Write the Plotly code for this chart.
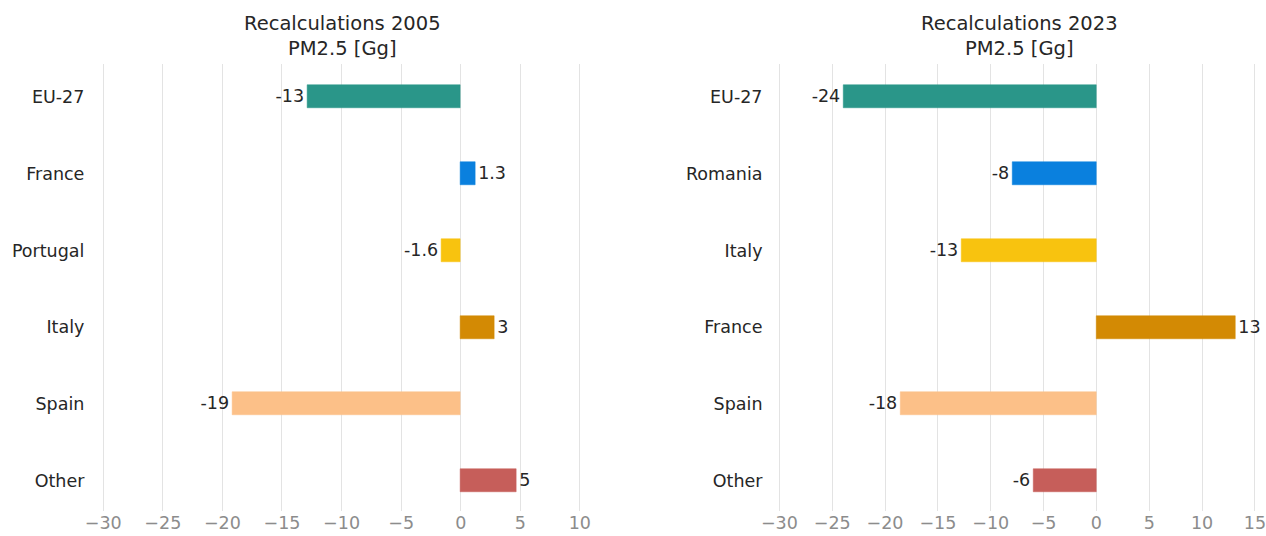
import plotly.graph_objects as go

# ---- data ----
countries_2005 = ["EU-27", "France", "Portugal", "Italy", "Spain", "Other"]
values_2005 = [-12.9, 1.25, -1.6, 2.85, -19.2, 4.7]
labels_2005 = ["-13", "1.3", "-1.6", "3", "-19", "5"]

countries_2023 = ["EU-27", "Romania", "Italy", "France", "Spain", "Other"]
values_2023 = [-23.9, -7.95, -12.8, 13.15, -18.5, -5.95]
labels_2023 = ["-24", "-8", "-13", "13", "-18", "-6"]

row_colors = ["#2a9689", "#0a80de", "#f8c30f", "#d38a04", "#fcc088", "#c65e5a"]

W, H = 1266, 536
FONT = "DejaVu Sans"


def px(x):
    return x / W


def py(y):
    return 1 - y / H


fig = go.Figure()

for vals, cats, labs, xa, ya in [
    (values_2005, countries_2005, labels_2005, "x", "y"),
    (values_2023, countries_2023, labels_2023, "x2", "y2"),
]:
    fig.add_trace(go.Bar(
        x=vals, y=cats, orientation="h", width=0.3,
        marker=dict(color=row_colors, line=dict(color=row_colors, width=0.5)),
        text=labs, textposition="outside", constraintext="none", cliponaxis=False,
        textfont=dict(family=FONT, size=17.5, color="#262626"),
        xaxis=xa, yaxis=ya, showlegend=False, hoverinfo="x+y",
    ))

y_dom = [py(510.7), py(64)]
left_dom = [px(85.4), px(597.7)]
right_dom = [px(763.5), px(1265.5)]

xcommon = dict(
    showgrid=True, gridcolor="#e3e3e3", gridwidth=1, zeroline=False,
    showline=False, ticks="", tickfont=dict(family=FONT, size=17.5, color="#8c8c8c"),
    tickmode="linear", dtick=5, tick0=0, automargin=False,
    ticklabeloverflow="allow",
)
ycommon = dict(
    showgrid=False, zeroline=False, showline=False, ticks="",
    tickfont=dict(family=FONT, size=17.5, color="#262626"),
    automargin=False, range=[5.394, -0.43], type="category",
)

fig.update_layout(
    width=W, height=H,
    margin=dict(l=0, r=0, t=0, b=0),
    paper_bgcolor="white", plot_bgcolor="white",
    font=dict(family=FONT),
    bargap=0,
    xaxis=dict(domain=left_dom, range=[-31.5, 11.5], anchor="y", **xcommon),
    yaxis=dict(domain=y_dom, anchor="x", categoryorder="array",
               categoryarray=countries_2005, **ycommon),
    xaxis2=dict(domain=right_dom, range=[-31.5, 16], anchor="y2", **xcommon),
    yaxis2=dict(domain=y_dom, anchor="x2", categoryorder="array",
                categoryarray=countries_2023, **ycommon),
    annotations=[
        dict(text="Recalculations 2005<br>PM2.5 [Gg]", x=px(342.5), y=py(36),
             xref="paper", yref="paper", showarrow=False, xanchor="center", yanchor="middle",
             font=dict(family=FONT, size=19.5, color="#262626")),
        dict(text="Recalculations 2023<br>PM2.5 [Gg]", x=px(1019), y=py(36),
             xref="paper", yref="paper", showarrow=False, xanchor="center", yanchor="middle",
             font=dict(family=FONT, size=19.5, color="#262626")),
    ],
)

fig.write_html(
    "out.html",
    config={"displayModeBar": False},
    post_script="document.body.style.margin='0';document.body.style.overflow='hidden';",
)
